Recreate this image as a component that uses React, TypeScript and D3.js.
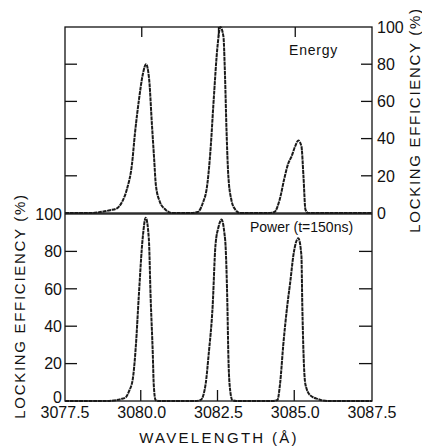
import React from "react";
import * as d3 from "d3";

const energyWl = [3077.5, 3078.4, 3078.64, 3078.97, 3079.19, 3079.36, 3079.52, 3079.68, 3079.78, 3079.91, 3080.04, 3080.14, 3080.24, 3080.33, 3080.4, 3080.46, 3080.59, 3080.76, 3080.99,
  3081.59, 3081.82, 3081.98, 3082.14, 3082.24, 3082.34, 3082.47, 3082.56, 3082.66, 3082.71, 3082.76, 3082.82, 3082.92, 3083.04, 3083.2,
  3084.12, 3084.32, 3084.49, 3084.65, 3084.78, 3084.87, 3085.0, 3085.1, 3085.2, 3085.27, 3085.33, 3085.42, 3087.5];
const energyVal = [0, 0, 0.5, 1.5, 2.5, 6, 13, 26, 43, 61, 75, 80, 72, 48, 30, 15, 6, 2, 0,
  0, 0.5, 5, 16, 34, 60, 90, 100, 95, 75, 45, 20, 7, 2, 0,
  0, 0.5, 7, 19, 27, 30, 36, 39, 36, 19, 2, 0, 0];

const powerWl = [3077.5, 3078.83, 3079.09, 3079.32, 3079.48, 3079.58, 3079.71, 3079.81, 3079.9, 3080.03, 3080.13, 3080.23, 3080.29, 3080.36, 3080.39, 3080.45, 3080.55,
  3081.75, 3081.92, 3082.08, 3082.18, 3082.31, 3082.4, 3082.5, 3082.6, 3082.69, 3082.73, 3082.79, 3082.82, 3082.86, 3082.95, 3083.08,
  3084.25, 3084.42, 3084.51, 3084.61, 3084.74, 3084.84, 3084.94, 3085.1, 3085.2, 3085.23, 3085.27, 3085.33, 3085.49, 3085.75, 3086.04, 3087.5];
const powerVal = [0, 0, 0.3, 1, 2, 5, 12, 30, 55, 87, 98, 87, 55, 25, 9, 0.5, 0,
  0, 0.5, 9, 25, 51, 83, 93, 97, 90, 83, 51, 25, 9, 0.5, 0,
  0, 0.5, 10, 30, 51, 64, 78, 87, 78, 51, 25, 9, 3, 1, 0, 0];

const xTickValues = [3077.5, 3080.0, 3082.5, 3085.0, 3087.5];
const xTickLabels = ["3077.5", "3080.0", "3082.5", "3085.0", "3087.5"];
const yTickValues = [0, 20, 40, 60, 80, 100];
const yTickLabels = ["0", "20", "40", "60", "80", "100"];
const energyLabel = "Energy";
const powerLabel = "Power (t=150ns)";
const xTitle = "WAVELENGTH (Å)";
const yTitle = "LOCKING EFFICIENCY (%)";

const FONT = "'Liberation Sans', Arial, sans-serif";

export default function App() {
  const x = d3.scaleLinear().domain([3077.5, 3087.5]).range([65, 372]);
  const yTop = d3.scaleLinear().domain([0, 100]).range([213, 27]);
  const yBot = d3.scaleLinear().domain([0, 100]).range([401, 214]);

  const lineTop = d3.line<number>()
    .x((_, i) => x(energyWl[i]))
    .y((d) => yTop(d))
    .curve(d3.curveMonotoneX);
  const lineBot = d3.line<number>()
    .x((_, i) => x(powerWl[i]))
    .y((d) => yBot(d))
    .curve(d3.curveMonotoneX);

  const innerX = xTickValues.slice(1, 4);
  const innerY = yTickValues.slice(1, 5);
  const x0 = x(3077.5), x1 = x(3087.5);
  const stroke = "#111";

  return (
    <svg width={422} height={447} style={{ position: "absolute", left: 0, top: 0, background: "#fff" }}>
      {/* frames */}
      <rect x={x0} y={yTop(100)} width={x1 - x0} height={yTop(0) - yTop(100)} fill="none" stroke={stroke} strokeWidth={1.3} />
      <rect x={x0} y={yBot(100)} width={x1 - x0} height={yBot(0) - yBot(100)} fill="none" stroke={stroke} strokeWidth={1.3} />

      {/* top panel ticks */}
      {innerX.map((v) => (
        <line key={"tt" + v} x1={x(v)} x2={x(v)} y1={yTop(100)} y2={yTop(100) + 10} stroke={stroke} strokeWidth={1.3} />
      ))}
      {innerY.map((v) => (
        <g key={"ty" + v}>
          <line x1={x0} x2={x0 + 12} y1={yTop(v)} y2={yTop(v)} stroke={stroke} strokeWidth={1.3} />
          <line x1={x1 - 11} x2={x1} y1={yTop(v)} y2={yTop(v)} stroke={stroke} strokeWidth={1.3} />
        </g>
      ))}
      {/* bottom panel ticks */}
      {innerX.map((v) => (
        <line key={"bt" + v} x1={x(v) - 1} x2={x(v) - 1} y1={yBot(0)} y2={yBot(0) - 11} stroke={stroke} strokeWidth={1.3} />
      ))}
      {innerY.map((v) => (
        <g key={"by" + v}>
          <line x1={x0} x2={x0 + 12} y1={yBot(v)} y2={yBot(v)} stroke={stroke} strokeWidth={1.3} />
          <line x1={x1 - 13} x2={x1} y1={yBot(v)} y2={yBot(v)} stroke={stroke} strokeWidth={1.3} />
        </g>
      ))}

      {/* curves */}
      <path d={lineTop(energyVal) || ""} fill="none" stroke="#1a1a1a" strokeWidth={2} strokeDasharray="4 0.7" strokeLinejoin="round" />
      <path d={lineBot(powerVal) || ""} fill="none" stroke="#1a1a1a" strokeWidth={2} strokeDasharray="4 0.7" strokeLinejoin="round" />

      {/* right tick labels (top panel) */}
      {yTickValues.map((v, i) => (
        <text key={"rl" + v} x={x1 + 5} y={yTop(v)} dy="0.36em" fontFamily={FONT} fontSize={16} fill={stroke}>
          {yTickLabels[i]}
        </text>
      ))}
      {/* left tick labels (bottom panel) */}
      {yTickValues.map((v, i) => (
        <text key={"ll" + v} x={x0 - 3} y={yBot(v)} dy={v === 0 ? "0.1em" : "0.36em"} textAnchor="end" fontFamily={FONT} fontSize={16} fill={stroke}>
          {yTickLabels[i]}
        </text>
      ))}
      {/* x tick labels */}
      {xTickValues.map((v, i) => (
        <text key={"xl" + v} x={x(v)} y={418} textAnchor="middle" fontFamily={FONT} fontSize={16} fill={stroke}>
          {xTickLabels[i]}
        </text>
      ))}

      {/* panel labels */}
      <text x={289} y={55} fontFamily={FONT} fontSize={14} letterSpacing={0.8} fill={stroke}>{energyLabel}</text>
      <text x={250} y={232} fontFamily={FONT} fontSize={14} fill={stroke}>{powerLabel}</text>

      {/* axis titles */}
      <text x={219} y={443} textAnchor="middle" fontFamily={FONT} fontSize={15} letterSpacing={2.3} fill={stroke}>{xTitle}</text>
      <text transform="translate(25,306) rotate(-90)" textAnchor="middle" fontFamily={FONT} fontSize={15} letterSpacing={1.7} fill={stroke}>{yTitle}</text>
      <text transform="translate(420,120) rotate(-90)" textAnchor="middle" fontFamily={FONT} fontSize={15} letterSpacing={1.7} fill={stroke}>{yTitle}</text>
    </svg>
  );
}
